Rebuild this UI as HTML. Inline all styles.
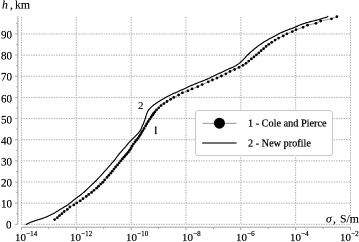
<!DOCTYPE html>
<html><head><meta charset="utf-8"><style>
html,body{margin:0;padding:0;background:#fff;}
body{width:359px;height:242px;position:relative;overflow:hidden;font-family:"Liberation Serif",serif;color:#000;}
svg{position:absolute;left:0;top:0;}
.tx{position:absolute;line-height:1;white-space:nowrap;transform:scale(0.5);will-change:transform;-webkit-text-stroke:0.25px #000;}
.sup{font-size:64%;position:relative;top:-0.7em;margin-left:0.03em;}
.leg{position:absolute;left:195.3px;top:109.8px;width:138px;height:46.4px;border:1px solid #c8c8c8;border-radius:3px;background:#fff;box-sizing:border-box;}
</style></head><body>
<svg width="359" height="242" viewBox="0 0 359 242">
<line x1="21.45" y1="17" x2="21.45" y2="224.30" stroke="#b4b4b4" stroke-width="1.0" stroke-dasharray="1.5 1"/>
<line x1="76.29" y1="17" x2="76.29" y2="224.30" stroke="#b4b4b4" stroke-width="1.0" stroke-dasharray="1.5 1"/>
<line x1="131.13" y1="17" x2="131.13" y2="224.30" stroke="#b4b4b4" stroke-width="1.0" stroke-dasharray="1.5 1"/>
<line x1="185.97" y1="17" x2="185.97" y2="224.30" stroke="#b4b4b4" stroke-width="1.0" stroke-dasharray="1.5 1"/>
<line x1="240.81" y1="17" x2="240.81" y2="224.30" stroke="#b4b4b4" stroke-width="1.0" stroke-dasharray="1.5 1"/>
<line x1="295.65" y1="17" x2="295.65" y2="224.30" stroke="#b4b4b4" stroke-width="1.0" stroke-dasharray="1.5 1"/>
<line x1="350.49" y1="17" x2="350.49" y2="224.30" stroke="#b4b4b4" stroke-width="1.0" stroke-dasharray="1.5 1"/>
<line x1="21" y1="224.30" x2="350.5" y2="224.30" stroke="#b4b4b4" stroke-width="1.0" stroke-dasharray="1.5 1"/>
<line x1="21" y1="203.15" x2="350.5" y2="203.15" stroke="#b4b4b4" stroke-width="1.0" stroke-dasharray="1.5 1"/>
<line x1="21" y1="182.00" x2="350.5" y2="182.00" stroke="#b4b4b4" stroke-width="1.0" stroke-dasharray="1.5 1"/>
<line x1="21" y1="160.85" x2="350.5" y2="160.85" stroke="#b4b4b4" stroke-width="1.0" stroke-dasharray="1.5 1"/>
<line x1="21" y1="139.70" x2="350.5" y2="139.70" stroke="#b4b4b4" stroke-width="1.0" stroke-dasharray="1.5 1"/>
<line x1="21" y1="118.55" x2="350.5" y2="118.55" stroke="#b4b4b4" stroke-width="1.0" stroke-dasharray="1.5 1"/>
<line x1="21" y1="97.40" x2="350.5" y2="97.40" stroke="#b4b4b4" stroke-width="1.0" stroke-dasharray="1.5 1"/>
<line x1="21" y1="76.25" x2="350.5" y2="76.25" stroke="#b4b4b4" stroke-width="1.0" stroke-dasharray="1.5 1"/>
<line x1="21" y1="55.10" x2="350.5" y2="55.10" stroke="#b4b4b4" stroke-width="1.0" stroke-dasharray="1.5 1"/>
<line x1="21" y1="33.95" x2="350.5" y2="33.95" stroke="#b4b4b4" stroke-width="1.0" stroke-dasharray="1.5 1"/>
<line x1="17.85" y1="16.3" x2="17.85" y2="224.30" stroke="#a0a0a0" stroke-width="1.0"/>
<line x1="21.45" y1="227.2" x2="350.7" y2="227.2" stroke="#a0a0a0" stroke-width="1.0"/>
<line x1="15" y1="224.30" x2="17.85" y2="224.30" stroke="#a0a0a0" stroke-width="0.9"/>
<line x1="15" y1="203.15" x2="17.85" y2="203.15" stroke="#a0a0a0" stroke-width="0.9"/>
<line x1="15" y1="182.00" x2="17.85" y2="182.00" stroke="#a0a0a0" stroke-width="0.9"/>
<line x1="15" y1="160.85" x2="17.85" y2="160.85" stroke="#a0a0a0" stroke-width="0.9"/>
<line x1="15" y1="139.70" x2="17.85" y2="139.70" stroke="#a0a0a0" stroke-width="0.9"/>
<line x1="15" y1="118.55" x2="17.85" y2="118.55" stroke="#a0a0a0" stroke-width="0.9"/>
<line x1="15" y1="97.40" x2="17.85" y2="97.40" stroke="#a0a0a0" stroke-width="0.9"/>
<line x1="15" y1="76.25" x2="17.85" y2="76.25" stroke="#a0a0a0" stroke-width="0.9"/>
<line x1="15" y1="55.10" x2="17.85" y2="55.10" stroke="#a0a0a0" stroke-width="0.9"/>
<line x1="15" y1="33.95" x2="17.85" y2="33.95" stroke="#a0a0a0" stroke-width="0.9"/>
<line x1="16.2" y1="213.73" x2="17.85" y2="213.73" stroke="#a0a0a0" stroke-width="0.9"/>
<line x1="16.2" y1="192.58" x2="17.85" y2="192.58" stroke="#a0a0a0" stroke-width="0.9"/>
<line x1="16.2" y1="171.43" x2="17.85" y2="171.43" stroke="#a0a0a0" stroke-width="0.9"/>
<line x1="16.2" y1="150.28" x2="17.85" y2="150.28" stroke="#a0a0a0" stroke-width="0.9"/>
<line x1="16.2" y1="129.12" x2="17.85" y2="129.12" stroke="#a0a0a0" stroke-width="0.9"/>
<line x1="16.2" y1="107.97" x2="17.85" y2="107.97" stroke="#a0a0a0" stroke-width="0.9"/>
<line x1="16.2" y1="86.82" x2="17.85" y2="86.82" stroke="#a0a0a0" stroke-width="0.9"/>
<line x1="16.2" y1="65.67" x2="17.85" y2="65.67" stroke="#a0a0a0" stroke-width="0.9"/>
<line x1="16.2" y1="44.53" x2="17.85" y2="44.53" stroke="#a0a0a0" stroke-width="0.9"/>
<line x1="16.2" y1="23.38" x2="17.85" y2="23.38" stroke="#a0a0a0" stroke-width="0.9"/>
<line x1="21.45" y1="227.2" x2="21.45" y2="230.2" stroke="#a0a0a0" stroke-width="0.9"/>
<line x1="76.29" y1="227.2" x2="76.29" y2="230.2" stroke="#a0a0a0" stroke-width="0.9"/>
<line x1="131.13" y1="227.2" x2="131.13" y2="230.2" stroke="#a0a0a0" stroke-width="0.9"/>
<line x1="185.97" y1="227.2" x2="185.97" y2="230.2" stroke="#a0a0a0" stroke-width="0.9"/>
<line x1="240.81" y1="227.2" x2="240.81" y2="230.2" stroke="#a0a0a0" stroke-width="0.9"/>
<line x1="295.65" y1="227.2" x2="295.65" y2="230.2" stroke="#a0a0a0" stroke-width="0.9"/>
<line x1="350.49" y1="227.2" x2="350.49" y2="230.2" stroke="#a0a0a0" stroke-width="0.9"/>
<line x1="48.87" y1="227.2" x2="48.87" y2="229" stroke="#a0a0a0" stroke-width="0.9"/>
<line x1="103.71" y1="227.2" x2="103.71" y2="229" stroke="#a0a0a0" stroke-width="0.9"/>
<line x1="158.55" y1="227.2" x2="158.55" y2="229" stroke="#a0a0a0" stroke-width="0.9"/>
<line x1="213.39" y1="227.2" x2="213.39" y2="229" stroke="#a0a0a0" stroke-width="0.9"/>
<line x1="268.23" y1="227.2" x2="268.23" y2="229" stroke="#a0a0a0" stroke-width="0.9"/>
<line x1="323.07" y1="227.2" x2="323.07" y2="229" stroke="#a0a0a0" stroke-width="0.9"/>
<polyline points="54.60,219.60 57.40,217.70 59.60,215.60 61.90,213.70 64.20,211.50 67.30,209.40 69.90,207.00 73.80,204.90 76.70,202.90 80.20,200.80 83.00,198.70 86.30,196.40 88.70,194.40 91.60,192.40 93.90,190.30 96.60,188.20 98.60,186.20 100.70,184.10 102.80,182.30 104.60,180.00 107.00,177.40 108.80,175.30 110.70,173.20 112.30,171.20 114.00,169.10 115.60,167.00 117.50,164.90 119.20,162.80 120.80,160.80 122.40,158.90 123.90,157.20 125.30,155.60 126.70,153.90 128.20,152.30 129.50,150.40 130.90,148.50 132.00,146.20 133.40,144.10 135.00,142.00 136.40,140.20 137.90,138.30 139.20,136.40 140.40,134.60 141.60,132.50 142.80,130.60 144.10,128.40 145.60,125.90 146.80,123.70 148.20,121.50 149.70,119.20 151.10,117.00 152.50,115.20 153.60,113.50 155.00,111.80 156.60,109.80 158.70,107.80 161.00,105.60 163.90,103.60 167.00,101.50 170.70,99.30 173.80,97.40 178.60,95.00 182.40,92.80 187.90,90.80 192.00,88.90 197.80,86.70 202.20,84.60 208.30,81.80 212.40,80.00 217.00,78.10 221.40,76.00 225.90,73.80 230.00,71.50 234.60,69.50 239.00,67.40 242.90,65.30 246.00,63.30 248.70,61.10 251.40,58.90 254.00,56.90 256.40,54.80 258.80,52.80 261.10,50.70 263.60,48.70 266.10,46.40 268.80,44.30 271.70,42.30 275.10,40.10 278.60,38.10 283.20,36.00 286.90,33.80 292.30,31.60 296.00,29.70 303.00,27.30 307.50,25.20 315.90,23.30 320.70,21.00 331.50,18.80 336.90,16.70" fill="none" stroke="#555" stroke-width="0.6"/>
<circle cx="54.60" cy="219.60" r="1.38" fill="#000"/>
<circle cx="57.40" cy="217.70" r="1.38" fill="#000"/>
<circle cx="59.60" cy="215.60" r="1.38" fill="#000"/>
<circle cx="61.90" cy="213.70" r="1.38" fill="#000"/>
<circle cx="64.20" cy="211.50" r="1.38" fill="#000"/>
<circle cx="67.30" cy="209.40" r="1.38" fill="#000"/>
<circle cx="69.90" cy="207.00" r="1.38" fill="#000"/>
<circle cx="73.80" cy="204.90" r="1.38" fill="#000"/>
<circle cx="76.70" cy="202.90" r="1.38" fill="#000"/>
<circle cx="80.20" cy="200.80" r="1.38" fill="#000"/>
<circle cx="83.00" cy="198.70" r="1.38" fill="#000"/>
<circle cx="86.30" cy="196.40" r="1.38" fill="#000"/>
<circle cx="88.70" cy="194.40" r="1.38" fill="#000"/>
<circle cx="91.60" cy="192.40" r="1.38" fill="#000"/>
<circle cx="93.90" cy="190.30" r="1.38" fill="#000"/>
<circle cx="96.60" cy="188.20" r="1.38" fill="#000"/>
<circle cx="98.60" cy="186.20" r="1.38" fill="#000"/>
<circle cx="100.70" cy="184.10" r="1.38" fill="#000"/>
<circle cx="102.80" cy="182.30" r="1.38" fill="#000"/>
<circle cx="104.60" cy="180.00" r="1.38" fill="#000"/>
<circle cx="107.00" cy="177.40" r="1.38" fill="#000"/>
<circle cx="108.80" cy="175.30" r="1.38" fill="#000"/>
<circle cx="110.70" cy="173.20" r="1.38" fill="#000"/>
<circle cx="112.30" cy="171.20" r="1.38" fill="#000"/>
<circle cx="114.00" cy="169.10" r="1.38" fill="#000"/>
<circle cx="115.60" cy="167.00" r="1.38" fill="#000"/>
<circle cx="117.50" cy="164.90" r="1.38" fill="#000"/>
<circle cx="119.20" cy="162.80" r="1.38" fill="#000"/>
<circle cx="120.80" cy="160.80" r="1.38" fill="#000"/>
<circle cx="122.40" cy="158.90" r="1.38" fill="#000"/>
<circle cx="123.90" cy="157.20" r="1.38" fill="#000"/>
<circle cx="125.30" cy="155.60" r="1.38" fill="#000"/>
<circle cx="126.70" cy="153.90" r="1.38" fill="#000"/>
<circle cx="128.20" cy="152.30" r="1.38" fill="#000"/>
<circle cx="129.50" cy="150.40" r="1.38" fill="#000"/>
<circle cx="130.90" cy="148.50" r="1.38" fill="#000"/>
<circle cx="132.00" cy="146.20" r="1.38" fill="#000"/>
<circle cx="133.40" cy="144.10" r="1.38" fill="#000"/>
<circle cx="135.00" cy="142.00" r="1.38" fill="#000"/>
<circle cx="136.40" cy="140.20" r="1.38" fill="#000"/>
<circle cx="137.90" cy="138.30" r="1.38" fill="#000"/>
<circle cx="139.20" cy="136.40" r="1.38" fill="#000"/>
<circle cx="140.40" cy="134.60" r="1.38" fill="#000"/>
<circle cx="141.60" cy="132.50" r="1.38" fill="#000"/>
<circle cx="142.80" cy="130.60" r="1.38" fill="#000"/>
<circle cx="144.10" cy="128.40" r="1.38" fill="#000"/>
<circle cx="145.60" cy="125.90" r="1.38" fill="#000"/>
<circle cx="146.80" cy="123.70" r="1.38" fill="#000"/>
<circle cx="148.20" cy="121.50" r="1.38" fill="#000"/>
<circle cx="149.70" cy="119.20" r="1.38" fill="#000"/>
<circle cx="151.10" cy="117.00" r="1.38" fill="#000"/>
<circle cx="152.50" cy="115.20" r="1.38" fill="#000"/>
<circle cx="153.60" cy="113.50" r="1.38" fill="#000"/>
<circle cx="155.00" cy="111.80" r="1.38" fill="#000"/>
<circle cx="156.60" cy="109.80" r="1.38" fill="#000"/>
<circle cx="158.70" cy="107.80" r="1.38" fill="#000"/>
<circle cx="161.00" cy="105.60" r="1.38" fill="#000"/>
<circle cx="163.90" cy="103.60" r="1.38" fill="#000"/>
<circle cx="167.00" cy="101.50" r="1.38" fill="#000"/>
<circle cx="170.70" cy="99.30" r="1.38" fill="#000"/>
<circle cx="173.80" cy="97.40" r="1.38" fill="#000"/>
<circle cx="178.60" cy="95.00" r="1.38" fill="#000"/>
<circle cx="182.40" cy="92.80" r="1.38" fill="#000"/>
<circle cx="187.90" cy="90.80" r="1.38" fill="#000"/>
<circle cx="192.00" cy="88.90" r="1.38" fill="#000"/>
<circle cx="197.80" cy="86.70" r="1.38" fill="#000"/>
<circle cx="202.20" cy="84.60" r="1.38" fill="#000"/>
<circle cx="208.30" cy="81.80" r="1.38" fill="#000"/>
<circle cx="212.40" cy="80.00" r="1.38" fill="#000"/>
<circle cx="217.00" cy="78.10" r="1.38" fill="#000"/>
<circle cx="221.40" cy="76.00" r="1.38" fill="#000"/>
<circle cx="225.90" cy="73.80" r="1.38" fill="#000"/>
<circle cx="230.00" cy="71.50" r="1.38" fill="#000"/>
<circle cx="234.60" cy="69.50" r="1.38" fill="#000"/>
<circle cx="239.00" cy="67.40" r="1.38" fill="#000"/>
<circle cx="242.90" cy="65.30" r="1.38" fill="#000"/>
<circle cx="246.00" cy="63.30" r="1.38" fill="#000"/>
<circle cx="248.70" cy="61.10" r="1.38" fill="#000"/>
<circle cx="251.40" cy="58.90" r="1.38" fill="#000"/>
<circle cx="254.00" cy="56.90" r="1.38" fill="#000"/>
<circle cx="256.40" cy="54.80" r="1.38" fill="#000"/>
<circle cx="258.80" cy="52.80" r="1.38" fill="#000"/>
<circle cx="261.10" cy="50.70" r="1.38" fill="#000"/>
<circle cx="263.60" cy="48.70" r="1.38" fill="#000"/>
<circle cx="266.10" cy="46.40" r="1.38" fill="#000"/>
<circle cx="268.80" cy="44.30" r="1.38" fill="#000"/>
<circle cx="271.70" cy="42.30" r="1.38" fill="#000"/>
<circle cx="275.10" cy="40.10" r="1.38" fill="#000"/>
<circle cx="278.60" cy="38.10" r="1.38" fill="#000"/>
<circle cx="283.20" cy="36.00" r="1.38" fill="#000"/>
<circle cx="286.90" cy="33.80" r="1.38" fill="#000"/>
<circle cx="292.30" cy="31.60" r="1.38" fill="#000"/>
<circle cx="296.00" cy="29.70" r="1.38" fill="#000"/>
<circle cx="303.00" cy="27.30" r="1.38" fill="#000"/>
<circle cx="307.50" cy="25.20" r="1.38" fill="#000"/>
<circle cx="315.90" cy="23.30" r="1.38" fill="#000"/>
<circle cx="320.70" cy="21.00" r="1.38" fill="#000"/>
<circle cx="331.50" cy="18.80" r="1.38" fill="#000"/>
<circle cx="336.90" cy="16.70" r="1.38" fill="#000"/>
<polyline points="26.20,224.40 27.13,223.92 28.11,223.40 29.13,222.92 30.17,222.46 31.25,222.04 32.35,221.64 33.47,221.26 34.60,220.89 35.74,220.53 36.88,220.17 38.02,219.81 39.16,219.45 40.29,219.08 41.42,218.71 42.55,218.34 43.67,217.95 44.76,217.55 45.84,217.13 46.89,216.68 47.93,216.22 48.96,215.75 49.98,215.27 50.99,214.77 51.98,214.27 52.97,213.76 53.94,213.23 54.91,212.69 55.85,212.13 56.77,211.56 57.70,210.99 58.64,210.42 59.57,209.86 60.49,209.28 61.42,208.71 62.36,208.15 63.30,207.59 64.24,207.03 65.19,206.47 66.13,205.92 67.05,205.34 67.93,204.72 68.79,204.08 69.64,203.42 70.47,202.76 71.30,202.08 72.11,201.40 72.93,200.72 73.77,200.06 74.62,199.40 75.47,198.75 76.32,198.11 77.18,197.47 78.05,196.84 78.93,196.22 79.80,195.59 80.65,194.94 81.49,194.28 82.31,193.60 83.12,192.90 83.91,192.20 84.70,191.49 85.49,190.78 86.28,190.07 87.05,189.34 87.81,188.60 88.57,187.85 89.32,187.11 90.09,186.38 90.86,185.65 91.64,184.93 92.41,184.20 93.18,183.47 93.94,182.73 94.70,181.98 95.44,181.23 96.19,180.48 96.94,179.72 97.68,178.97 98.42,178.21 99.16,177.45 99.90,176.69 100.63,175.91 101.34,175.13 102.04,174.32 102.73,173.52 103.44,172.73 104.15,171.94 104.86,171.14 105.57,170.35 106.28,169.57 106.99,168.78 107.70,167.99 108.40,167.19 109.11,166.40 109.81,165.60 110.50,164.79 111.17,163.96 111.84,163.13 112.53,162.32 113.24,161.53 113.97,160.76 114.70,159.99 115.33,159.12 115.94,158.23 116.58,157.36 117.23,156.51 117.88,155.66 118.51,154.80 119.14,153.93 119.82,153.11 120.53,152.32 121.24,151.52 121.95,150.74 122.66,149.95 123.37,149.16 124.08,148.37 124.79,147.58 125.49,146.78 126.19,145.98 126.86,145.15 127.52,144.31 128.20,143.49 128.90,142.69 129.62,141.91 130.35,141.14 131.09,140.38 131.84,139.63 132.60,138.89 133.36,138.15 134.12,137.41 134.87,136.66 135.61,135.90 136.35,135.13 137.07,134.36 137.78,133.57 138.48,132.77 139.15,131.94 139.78,131.07 140.36,130.15 140.89,129.18 141.37,128.16 141.83,127.12 142.29,126.08 142.74,125.03 143.19,123.98 143.63,122.92 144.07,121.85 144.48,120.77 144.87,119.66 145.23,118.52 145.58,117.37 145.93,116.22 146.29,115.08 146.68,113.97 147.09,112.88 147.54,111.83 148.06,110.84 148.64,109.93 149.30,109.09 150.02,108.31 150.78,107.57 151.57,106.85 152.37,106.16 153.19,105.48 154.02,104.81 154.87,104.16 155.75,103.54 156.64,102.93 157.54,102.33 158.45,101.74 159.37,101.16 160.30,100.59 161.24,100.02 162.18,99.47 163.13,98.92 164.09,98.38 165.06,97.85 166.03,97.32 167.02,96.80 168.00,96.29 169.00,95.78 170.00,95.28 171.00,94.79 172.01,94.30 173.03,93.82 174.06,93.35 175.10,92.89 176.14,92.43 177.18,91.97 178.22,91.51 179.25,91.04 180.28,90.57 181.31,90.10 182.34,89.62 183.36,89.15 184.38,88.66 185.39,88.18 186.41,87.70 187.44,87.22 188.46,86.75 189.50,86.29 190.54,85.83 191.59,85.38 192.65,84.94 193.72,84.51 194.79,84.07 195.85,83.64 196.92,83.21 197.99,82.77 199.06,82.34 200.13,81.92 201.21,81.50 202.30,81.09 203.38,80.67 204.46,80.25 205.52,79.81 206.57,79.36 207.60,78.89 208.64,78.43 209.66,77.95 210.68,77.47 211.69,76.98 212.70,76.48 213.70,75.99 214.71,75.50 215.73,75.02 216.76,74.54 217.78,74.07 218.81,73.60 219.84,73.13 220.86,72.65 221.88,72.17 222.90,71.68 223.91,71.20 224.92,70.71 225.94,70.23 226.97,69.76 228.01,69.29 229.04,68.83 230.08,68.37 231.11,67.90 232.14,67.43 233.17,66.96 234.18,66.47 235.17,65.96 236.13,65.42 237.06,64.85 237.95,64.24 238.82,63.61 239.66,62.95 240.47,62.25 241.25,61.54 242.02,60.80 242.77,60.06 243.52,59.31 244.26,58.55 244.99,57.78 245.72,57.00 246.44,56.23 247.18,55.47 247.93,54.72 248.69,53.98 249.46,53.25 250.24,52.53 251.04,51.83 251.85,51.13 252.65,50.44 253.46,49.75 254.27,49.06 255.09,48.38 255.91,47.70 256.76,47.05 257.61,46.40 258.48,45.77 259.36,45.14 260.24,44.52 261.12,43.91 262.01,43.29 262.90,42.69 263.82,42.10 264.74,41.53 265.68,40.97 266.63,40.42 267.59,39.88 268.55,39.34 269.53,38.81 270.51,38.30 271.50,37.79 272.49,37.28 273.48,36.77 274.46,36.25 275.42,35.71 276.38,35.17 277.34,34.63 278.31,34.10 279.29,33.57 280.28,33.07 281.30,32.59 282.34,32.13 283.39,31.68 284.45,31.24 285.52,30.81 286.60,30.38 287.68,29.97 288.77,29.56 289.87,29.16 290.96,28.75 292.06,28.35 293.14,27.93 294.22,27.50 295.27,27.06 296.31,26.60 297.34,26.12 298.36,25.65 299.41,25.20 300.48,24.77 301.58,24.36 302.69,23.98 303.82,23.61 304.96,23.25 306.11,22.89 307.26,22.55 308.42,22.21 309.60,21.89 310.79,21.58 311.99,21.28 313.21,20.99 314.41,20.70 315.61,20.40 316.80,20.08 317.97,19.76 319.15,19.44 320.32,19.11 321.48,18.77 322.63,18.42 323.78,18.07 324.92,17.71 326.05,17.34 327.17,16.96 327.90,16.40" fill="none" stroke="#000" stroke-width="1.15" stroke-linejoin="round" stroke-linecap="round"/>
</svg>
<div class="leg"></div>
<svg width="359" height="242" viewBox="0 0 359 242">
<line x1="202.5" y1="123.3" x2="236.6" y2="123.3" stroke="#777" stroke-width="0.8"/>
<circle cx="219.45" cy="123.15" r="5.5" fill="#000"/>
<rect x="154.95" y="126.6" width="1.5" height="7.5" fill="#2a2a2a"/>
<rect x="154.9" y="126.7" width="1.5" height="1.2" fill="#222"/>
<rect x="154.8" y="133.2" width="1.75" height="0.9" fill="#222"/>
<line x1="202.2" y1="143.0" x2="236.6" y2="143.0" stroke="#444" stroke-width="1.4"/>
</svg>
<div class="tx" style="right:347.10px;top:219.47px;font-size:23.00px;transform-origin:100% 0;transform:scale(0.478,0.5);-webkit-text-stroke:0.4px #000;">0</div>
<div class="tx" style="right:347.10px;top:198.32px;font-size:23.00px;transform-origin:100% 0;transform:scale(0.478,0.5);-webkit-text-stroke:0.4px #000;">10</div>
<div class="tx" style="right:347.10px;top:177.17px;font-size:23.00px;transform-origin:100% 0;transform:scale(0.478,0.5);-webkit-text-stroke:0.4px #000;">20</div>
<div class="tx" style="right:347.10px;top:156.02px;font-size:23.00px;transform-origin:100% 0;transform:scale(0.478,0.5);-webkit-text-stroke:0.4px #000;">30</div>
<div class="tx" style="right:347.10px;top:134.87px;font-size:23.00px;transform-origin:100% 0;transform:scale(0.478,0.5);-webkit-text-stroke:0.4px #000;">40</div>
<div class="tx" style="right:347.10px;top:113.72px;font-size:23.00px;transform-origin:100% 0;transform:scale(0.478,0.5);-webkit-text-stroke:0.4px #000;">50</div>
<div class="tx" style="right:347.10px;top:92.57px;font-size:23.00px;transform-origin:100% 0;transform:scale(0.478,0.5);-webkit-text-stroke:0.4px #000;">60</div>
<div class="tx" style="right:347.10px;top:71.42px;font-size:23.00px;transform-origin:100% 0;transform:scale(0.478,0.5);-webkit-text-stroke:0.4px #000;">70</div>
<div class="tx" style="right:347.10px;top:50.27px;font-size:23.00px;transform-origin:100% 0;transform:scale(0.478,0.5);-webkit-text-stroke:0.4px #000;">80</div>
<div class="tx" style="right:347.10px;top:29.12px;font-size:23.00px;transform-origin:100% 0;transform:scale(0.478,0.5);-webkit-text-stroke:0.4px #000;">90</div>
<div class="tx" style="left:14.50px;top:231.69px;font-size:22.00px;transform-origin:0 0;-webkit-text-stroke:0.4px #000;">10<span class="sup">&minus;14</span></div>
<div class="tx" style="left:70.10px;top:231.69px;font-size:22.00px;transform-origin:0 0;-webkit-text-stroke:0.4px #000;">10<span class="sup">&minus;12</span></div>
<div class="tx" style="left:125.90px;top:231.69px;font-size:22.00px;transform-origin:0 0;-webkit-text-stroke:0.4px #000;">10<span class="sup">&minus;10</span></div>
<div class="tx" style="left:181.70px;top:231.69px;font-size:22.00px;transform-origin:0 0;-webkit-text-stroke:0.4px #000;">10<span class="sup">&minus;8</span></div>
<div class="tx" style="left:235.70px;top:231.69px;font-size:22.00px;transform-origin:0 0;-webkit-text-stroke:0.4px #000;">10<span class="sup">&minus;6</span></div>
<div class="tx" style="left:290.40px;top:231.69px;font-size:22.00px;transform-origin:0 0;-webkit-text-stroke:0.4px #000;">10<span class="sup">&minus;4</span></div>
<div class="tx" style="left:339.70px;top:231.69px;font-size:22.00px;transform-origin:0 0;-webkit-text-stroke:0.4px #000;">10<span class="sup">&minus;2</span></div>
<div class="tx" style="left:2.00px;top:-1.20px;font-size:23.40px;transform-origin:0 0;"><i>h</i></div>
<div class="tx" style="left:9.70px;top:-1.20px;font-size:23.40px;transform-origin:0 0;">,</div>
<div class="tx" style="left:14.50px;top:-1.20px;font-size:23.40px;transform-origin:0 0;">km</div>
<div class="tx" style="left:326.20px;top:212.50px;font-size:23.40px;transform-origin:0 0;"><i>&sigma;</i></div>
<div class="tx" style="left:332.50px;top:212.50px;font-size:23.40px;transform-origin:0 0;">,</div>
<div class="tx" style="left:340.20px;top:212.50px;font-size:23.40px;transform-origin:0 0;">S/m</div>
<div class="tx" style="left:137.60px;top:100.39px;font-size:22.00px;transform-origin:0 0;-webkit-text-stroke:0.2px #000;">2</div>
<div class="tx" style="left:247.80px;top:118.32px;font-size:20.50px;transform-origin:0 0;-webkit-text-stroke:0.5px #000;">1 - Cole and Pierce</div>
<div class="tx" style="left:247.60px;top:137.82px;font-size:20.50px;transform-origin:0 0;-webkit-text-stroke:0.5px #000;">2 - New profile</div>
</body></html>
